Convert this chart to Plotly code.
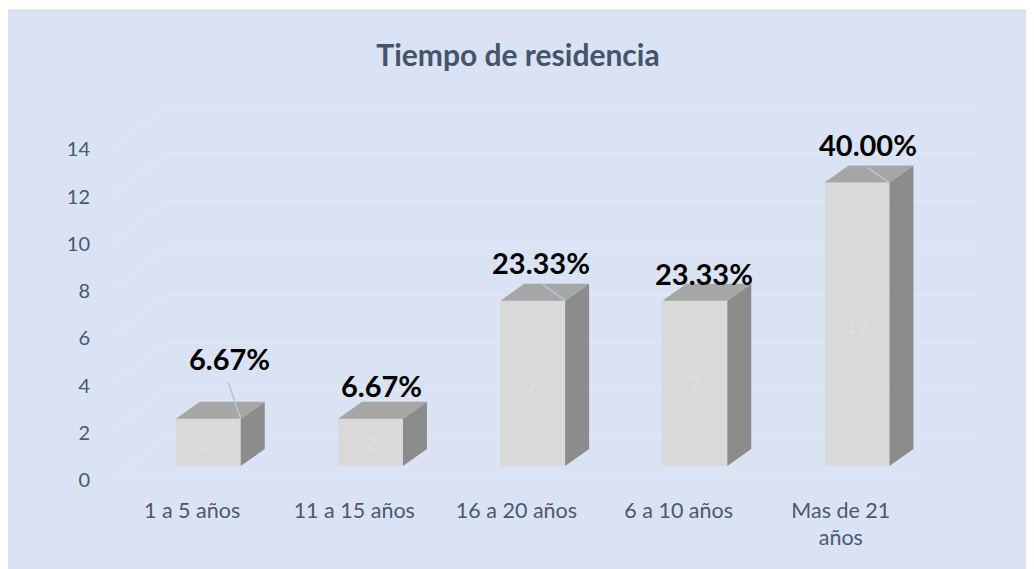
import plotly.graph_objects as go

# ---- data ----
categories = ["1 a 5 años", "11 a 15 años", "16 a 20 años", "6 a 10 años", "Mas de 21<br>años"]
values = [2, 2, 7, 7, 12]
y_ticks = [0, 2, 4, 6, 8, 10, 12, 14]
title_text = "Tiempo de residencia"

# ---- styling / projection parameters (data units) ----
BASE = 0.59            # bars sit slightly back on the floor
BAR_OFF = 0.1          # front-face centre offset from category
BAR_W = 0.4            # front-face width
DEPTH_X, DEPTH_Y = 0.148, 0.72   # bar depth projection
WALL_X, WALL_Y = 0.34, 1.82      # back wall projection
FLOOR_L, FLOOR_R = -0.5, 4.5
# label offsets relative to the bar's top (dx, dy) and leader start (dx, dy) or None
label_off = [(0.228, 2.57), (0.165, 1.39), (0.151, 1.60), (0.156, 1.17), (0.168, 1.63)]
leader_off = [(0.222, 1.56), None, (0.157, 0.71), None, (0.167, 0.62)]

BG = "#dae3f3"
GRID = "#e3e7ee"
FONT = "Lato"
TXT = "#4a5870"

total = sum(values)
pct = ["%.2f%%" % (v / total * 100) for v in values]
xs = list(range(len(values)))

fig = go.Figure()

# front faces (library bars)
fig.add_trace(go.Bar(
    x=[i + BAR_OFF for i in xs], y=values, base=BASE, width=BAR_W,
    marker=dict(color="#d9d9d9", line=dict(width=0)),
    text=[str(v) for v in values], textposition="inside", insidetextanchor="middle",
    textfont=dict(color="#dfdfdf", size=21, family=FONT),
    hoverinfo="skip", showlegend=False,
))

# side faces and top faces
sx, sy, tx, ty = [], [], [], []
for i, v in zip(xs, values):
    x0 = i + BAR_OFF - BAR_W / 2
    x1 = i + BAR_OFF + BAR_W / 2
    b = BASE
    t = BASE + v
    sx += [x1, x1 + DEPTH_X, x1 + DEPTH_X, x1, x1, None]
    sy += [b, b + DEPTH_Y, t + DEPTH_Y, t, b, None]
    tx += [x0, x1, x1 + DEPTH_X, x0 + DEPTH_X, x0, None]
    ty += [t, t, t + DEPTH_Y, t + DEPTH_Y, t, None]
fig.add_trace(go.Scatter(x=sx, y=sy, mode="lines", fill="toself", fillcolor="#8c8c8c",
                         line=dict(width=0, color="#8c8c8c"), hoverinfo="skip", showlegend=False))
fig.add_trace(go.Scatter(x=tx, y=ty, mode="lines", fill="toself", fillcolor="#a6a6a6",
                         line=dict(width=0, color="#a6a6a6"), hoverinfo="skip", showlegend=False))

# leader lines
lx, ly = [], []
for i, v, lo in zip(xs, values, leader_off):
    if lo is None:
        continue
    t = BASE + v
    lx += [i + lo[0], i + BAR_OFF + BAR_W / 2, None]
    ly += [t + lo[1], t, None]
fig.add_trace(go.Scatter(x=lx, y=ly, mode="lines", line=dict(color="#b4c6dc", width=1.5),
                         hoverinfo="skip", showlegend=False))

shapes = []
# chart area background with border
shapes.append(dict(type="rect", xref="paper", yref="paper",
                   x0=-0.1155, x1=1.06, y0=-0.28, y1=1.2434,
                   fillcolor=BG, line=dict(color="#d9d9d9", width=1), layer="below"))
# 3D gridlines: side wall slant + back wall
for v in y_ticks:
    shapes.append(dict(type="line", xref="x", yref="y", x0=FLOOR_L, y0=v,
                       x1=FLOOR_L + WALL_X, y1=v + WALL_Y,
                       line=dict(color=GRID, width=1.5), layer="below"))
    shapes.append(dict(type="line", xref="x", yref="y", x0=FLOOR_L + WALL_X, y0=v + WALL_Y,
                       x1=FLOOR_R + WALL_X, y1=v + WALL_Y,
                       line=dict(color=GRID, width=1.5), layer="below"))
# floor front edge
shapes.append(dict(type="line", xref="x", yref="y", x0=FLOOR_L, y0=0, x1=FLOOR_R, y1=0,
                   line=dict(color=GRID, width=1.5), layer="below"))

annotations = []
for i, v, p, lo in zip(xs, values, pct, label_off):
    annotations.append(dict(x=i + lo[0], y=BASE + v + lo[1], xref="x", yref="y",
                            text="<b>%s</b>" % p, showarrow=False,
                            xanchor="center", yanchor="middle",
                            font=dict(family=FONT, size=29, color="#000000")))

fig.update_layout(
    width=1034, height=569,
    margin=dict(l=103, r=39, t=94, b=97),
    paper_bgcolor="white", plot_bgcolor="rgba(0,0,0,0)",
    title=dict(text="<b>%s</b>" % title_text, x=510 / 1034, xref="container", xanchor="center",
               y=1 - 47 / 569, yref="container", yanchor="middle",
               font=dict(family=FONT, size=30, color="#44546a")),
    xaxis=dict(range=[-0.5, 5.0], tickvals=xs, ticktext=categories, showgrid=False,
               zeroline=False, showline=False, ticks="", ticklabelstandoff=15,
               tickfont=dict(family=FONT, size=21.5, color=TXT), fixedrange=True),
    yaxis=dict(range=[0, 16], tickvals=y_ticks, showgrid=False, zeroline=False,
               showline=False, ticks="", ticklabelstandoff=20,
               tickfont=dict(family=FONT, size=20, color=TXT), fixedrange=True),
    shapes=shapes, annotations=annotations, showlegend=False, bargap=0,
)

fig.write_html("out.html")
